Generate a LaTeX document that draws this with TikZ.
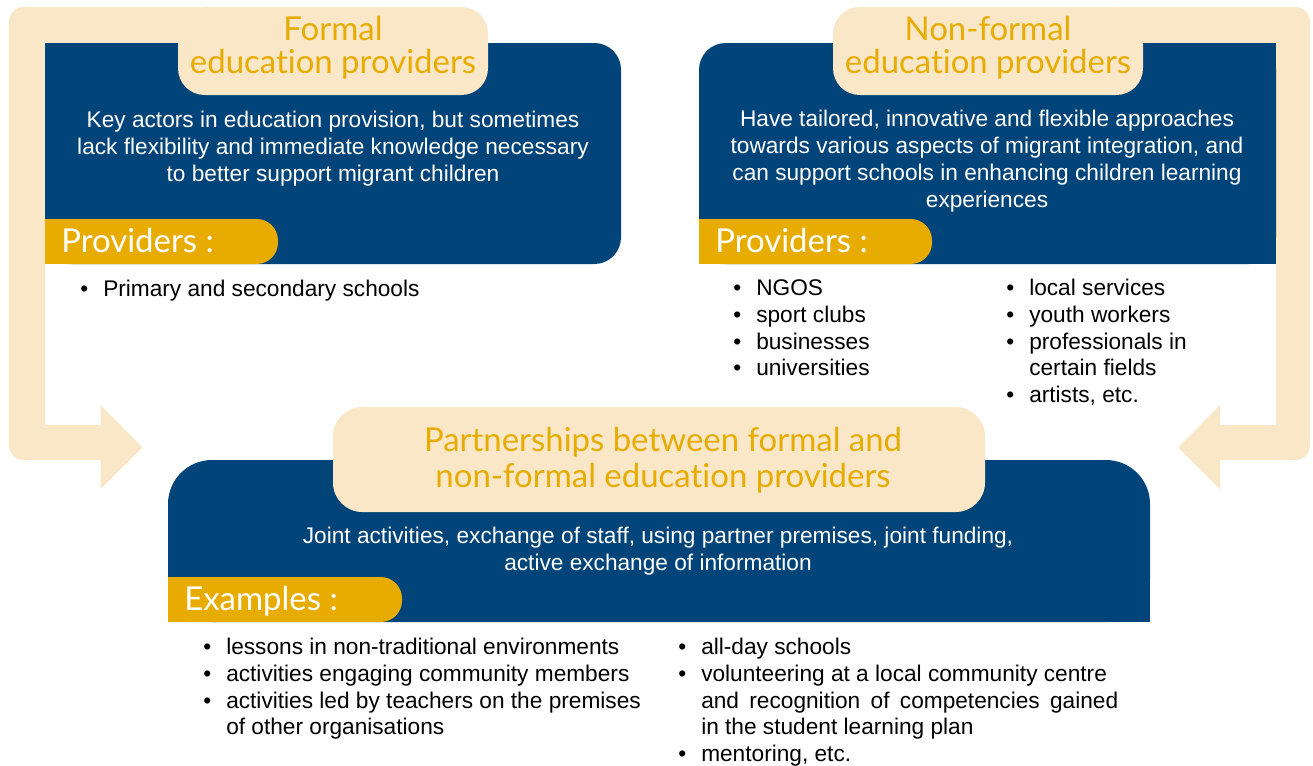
\documentclass[tikz,border=0pt]{standalone}
\usepackage{fontspec}
\setmainfont{Liberation Sans}
\newfontfamily\titlefont[Ligatures=NoCommon]{Lato}
\definecolor{navy}{RGB}{1,68,121}
\definecolor{gold}{RGB}{232,172,0}
\definecolor{beige}{RGB}{249,231,199}
\newlength\px \setlength\px{0.75pt}
\newcommand\bul{\makebox[23\px][l]{\textbullet}}
\newcommand\cont{\hspace*{23\px}}
\begin{document}
\begin{tikzpicture}[x=0.75pt,y=-0.75pt,
  bodytext/.style={text=white, font=\fontsize{17}{20.25}\selectfont, align=center, inner sep=0pt},
  titletext/.style={text=gold, font=\titlefont\fontsize{24.7}{24.75}\selectfont, align=center, inner sep=0pt},
  tabtext/.style={text=white, font=\titlefont\fontsize{24.7}{26}\selectfont, inner sep=0pt, anchor=base west},
  listtext/.style={text=black, font=\fontsize{17}{20}\selectfont, align=left, inner sep=0pt, anchor=north west},
]
\useasboundingbox (0,0) rectangle (1313,765);
% left L-shaped arrow
\fill[beige, rounded corners=11pt] (9,7) rectangle (45,460);
\fill[beige] (30,7) rectangle (200,43);
\fill[beige] (30,425) rectangle (101,460);
\fill[beige] (100.5,405) -- (142.5,447.5) -- (100.5,489) -- cycle;
% right L-shaped arrow
\fill[beige, rounded corners=11pt] (1276,7) rectangle (1310,460);
\fill[beige] (1120,7) rectangle (1290,43);
\fill[beige] (1219,425) rectangle (1290,460);
\fill[beige] (1220,405) -- (1178,447.5) -- (1220,489) -- cycle;
% blue boxes
\fill[navy, rounded corners=20pt] (45,43) rectangle (621,264);
\fill[navy] (45,43) rectangle (120,264);
\fill[navy, rounded corners=20pt] (699,43) rectangle (1276,264);
\fill[navy] (760,43) rectangle (1276,264);
\fill[navy] (699,150) rectangle (1276,264);
\fill[navy, rounded corners=33pt] (168,460) rectangle (1150,622);
\fill[navy] (168,540) rectangle (1150,622);
% tabs
\fill[gold, rounded corners=16pt] (45,219) rectangle (278,264);
\fill[gold] (45,219) rectangle (100,264);
\fill[gold, rounded corners=16pt] (699,219) rectangle (932,264);
\fill[gold] (699,219) rectangle (760,264);
\fill[gold, rounded corners=16pt] (168,577) rectangle (402,622);
\fill[gold] (168,577) rectangle (220,622);
% title pills
\fill[beige, rounded corners=20pt] (178,7) rectangle (488,95);
\fill[beige, rounded corners=20pt] (833,7) rectangle (1143,95);
\fill[beige, rounded corners=22pt] (333,407) rectangle (985,512);
% titles
\node[titletext] (ftitle) at (333,48) {Formal\\education providers};
\node[titletext] (ntitle) at (988,48) {Non-formal\\education providers};
\node[titletext, font=\titlefont\fontsize{24.7}{27}\selectfont] (ptitle) at (663,460) {Partnerships between formal and\\non-formal education providers};
% descriptions
\node[bodytext] (fdesc) at (333,148.5) {Key actors in education provision, but sometimes\\lack flexibility and immediate knowledge necessary\\to better support migrant children};
\node[bodytext] (ndesc) at (987,161.5) {Have tailored, innovative and flexible approaches\\towards various aspects of migrant integration, and\\can support schools in enhancing children learning\\experiences};
\node[bodytext] (pdesc) at (658,551) {Joint activities, exchange of staff, using partner premises, joint funding,\\active exchange of information};
% tab labels
\node[tabtext] (ftab) at (61,252) {Providers :};
\node[tabtext] (ntab) at (715,252) {Providers :};
\node[tabtext] (ptab) at (184,610) {Examples :};
% lists
\node[listtext] (flist) at (80,278) {\strut\bul Primary and secondary schools};
\node[listtext] (nlist1) at (733,277) {\strut\bul NGOS\\\bul sport clubs\\\bul businesses\\\bul universities};
\node[listtext] (nlist2) at (1006,277) {\strut\bul local services\\\bul youth workers\\\bul professionals in\\\cont certain fields\\\bul artists, etc.};
\node[listtext] (plist1) at (203,636) {\strut\bul lessons in non-traditional environments\\\bul activities engaging community members\\\bul activities led by teachers on the premises\\\cont of other organisations};
\node[listtext] (plist2) at (678,636) {\strut\bul all-day schools\\\bul volunteering at a local community centre\\\cont\makebox[417\px][s]{and recognition of competencies gained}\\\cont in the student learning plan\\\bul mentoring, etc.};
\end{tikzpicture}
\end{document}
